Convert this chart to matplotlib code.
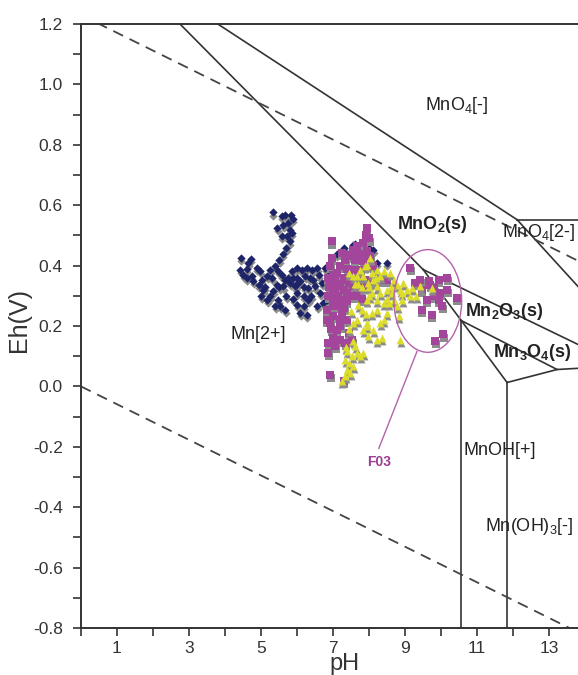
import matplotlib
matplotlib.use("Agg")
import matplotlib.pyplot as plt
from matplotlib.patches import Ellipse
from matplotlib import transforms

plt.rcParams['font.family'] = ['Liberation Sans', 'DejaVu Sans']
plt.rcParams['mathtext.fontset'] = 'custom'
plt.rcParams['mathtext.rm'] = 'Liberation Sans'
plt.rcParams['mathtext.bf'] = 'Liberation Sans:bold'

# stability field boundaries (pH, Eh)
mn2_mno2_ph = [2.75, 9.5]
mn2_mno2_eh = [1.2, 0.387]
mno4_mno2_ph = [3.8, 12.11]
mno4_mno2_eh = [1.2, 0.552]
mno4_mno42_ph = [12.11, 13.8]
mno4_mno42_eh = [0.552, 0.552]
mno42_mno2_ph = [12.11, 13.8]
mno42_mno2_eh = [0.552, 0.331]
mno2_mn2o3_ph = [9.5, 13.8]
mno2_mn2o3_eh = [0.387, 0.139]
mn2_mn2o3_ph = [9.5, 10.56]
mn2_mn2o3_eh = [0.387, 0.218]
mn2_mnoh_ph = [10.56, 10.56]
mn2_mnoh_eh = [0.218, -0.8]
mn2o3_mn3o4_ph = [10.56, 13.22, 13.8]
mn2o3_mn3o4_eh = [0.218, 0.056, 0.06]
mn3o4_mnoh_ph = [10.56, 11.83, 13.22]
mn3o4_mnoh_eh = [0.218, 0.013, 0.056]
mnoh_mnoh3_ph = [11.83, 11.83]
mnoh_mnoh3_eh = [0.013, -0.8]

# water stability limits
water_ph = [0.0, 13.8]
water_up = [1.23, 0.416]
water_low = [0.0, -0.814]

# samples
blue_ph = [5.32, 5.57, 5.67, 5.82, 5.88, 5.76, 5.62, 5.45, 5.81, 5.85, 5.71, 5.79, 5.57,
           4.43, 4.71, 4.65, 4.42, 4.51, 4.74, 4.88, 4.97, 5.02, 5.16, 5.25, 5.39, 5.48,
           5.57, 5.67, 5.76, 5.85, 5.99, 6.13, 6.27, 6.41, 6.55, 6.78, 6.22, 6.08, 5.94,
           5.81, 5.62, 5.43, 5.34, 5.25, 5.48, 5.53, 5.67, 5.39, 5.16, 5.06, 4.93, 4.79,
           5.99, 6.18, 6.31, 6.18, 6.08, 6.27, 6.50, 6.64, 6.55, 6.73, 6.69, 6.45, 6.31,
           7.56, 7.75, 8.12, 8.21, 8.49, 7.93, 6.82, 4.60, 5.10, 5.70, 6.00, 6.90, 7.10,
           5.90, 6.00, 6.20, 6.35, 6.60, 6.90, 5.30, 5.50, 4.60, 5.00, 5.90, 6.40, 6.00,
           5.60, 5.70, 5.50, 7.30, 7.60, 8.00]
blue_eh = [0.576, 0.565, 0.568, 0.568, 0.554, 0.541, 0.535, 0.524, 0.519, 0.508, 0.497, 0.480, 0.497,
           0.425, 0.422, 0.409, 0.387, 0.370, 0.365, 0.392, 0.381, 0.354, 0.365, 0.387, 0.398, 0.381,
           0.370, 0.354, 0.359, 0.381, 0.392, 0.387, 0.392, 0.387, 0.392, 0.392, 0.365, 0.348, 0.331,
           0.342, 0.331, 0.337, 0.315, 0.298, 0.287, 0.265, 0.254, 0.265, 0.287, 0.320, 0.337, 0.348,
           0.309, 0.298, 0.287, 0.265, 0.243, 0.238, 0.331, 0.309, 0.265, 0.276, 0.342, 0.354, 0.326,
           0.469, 0.464, 0.453, 0.409, 0.409, 0.398, 0.287, 0.360, 0.330, 0.300, 0.360, 0.400, 0.440,
           0.360, 0.340, 0.330, 0.360, 0.370, 0.370, 0.360, 0.330, 0.390, 0.300, 0.290, 0.300, 0.270,
           0.440, 0.460, 0.420, 0.460, 0.470, 0.460]

mag_ph = [7.93, 6.96, 7.84, 7.66, 7.56, 7.47, 7.33, 7.19, 7.10, 7.06, 6.92, 7.06, 7.15, 7.24,
          7.38, 7.52, 7.66, 7.75, 7.84, 7.56, 7.43, 7.29, 7.15, 6.87, 6.82, 7.01, 6.92, 6.87,
          7.06, 7.19, 7.33, 7.52, 7.01, 7.38, 7.43, 7.10, 7.56, 7.75, 7.93, 8.12, 8.31, 8.49,
          8.03, 8.12, 6.92, 7.29, 7.70, 7.84, 7.93, 6.92, 6.96, 7.24, 7.43, 7.10, 7.24, 7.01,
          7.29, 6.82, 7.19, 6.87,
          7.20, 7.40, 7.60, 7.00, 7.30, 7.50, 7.70, 7.20, 7.40, 7.60, 7.80, 7.00, 6.90, 7.10,
          7.30, 6.95, 7.20, 7.00, 7.60, 7.80, 7.90, 8.00, 6.85,
          9.14, 9.42, 9.65, 9.93, 10.16, 9.79, 9.97, 10.16, 9.46, 9.79, 9.60, 9.93, 10.43,
          10.02, 9.74, 9.46, 10.06, 9.83, 9.70, 9.28]
mag_eh = [0.524, 0.480, 0.475, 0.464, 0.453, 0.431, 0.420, 0.398, 0.376, 0.354, 0.342, 0.320, 0.298, 0.287,
          0.282, 0.298, 0.309, 0.320, 0.331, 0.331, 0.342, 0.354, 0.331, 0.298, 0.254, 0.265, 0.210, 0.144,
          0.133, 0.155, 0.144, 0.155, 0.232, 0.221, 0.177, 0.188, 0.387, 0.387, 0.354, 0.342, 0.354, 0.354,
          0.431, 0.398, 0.039, 0.017, 0.431, 0.414, 0.447, 0.398, 0.425, 0.442, 0.436, 0.265, 0.243, 0.287,
          0.320, 0.221, 0.199, 0.111,
          0.400, 0.390, 0.420, 0.370, 0.360, 0.370, 0.350, 0.340, 0.310, 0.300, 0.290, 0.310, 0.330, 0.280,
          0.260, 0.190, 0.220, 0.160, 0.450, 0.440, 0.500, 0.490, 0.360,
          0.392, 0.354, 0.348, 0.354, 0.359, 0.326, 0.309, 0.320, 0.320, 0.298, 0.287, 0.287, 0.293,
          0.265, 0.238, 0.254, 0.172, 0.150, 0.337, 0.342]

yel_ph = [8.03, 7.93, 7.75, 7.66, 7.84, 7.98, 8.12, 8.21, 8.07, 8.31, 8.49, 8.40, 8.58, 8.68,
          8.77, 8.63, 8.21, 7.93, 7.80, 7.66, 7.56, 7.93, 7.84, 7.98, 8.12, 8.31, 8.40, 8.49,
          8.54, 8.35, 8.21, 8.86, 8.91, 8.82, 8.86, 8.95, 9.05, 9.19, 9.14, 9.42, 9.74, 7.38,
          7.33, 7.43, 7.52, 7.66, 7.75, 7.84, 7.56, 7.47, 7.33, 7.24, 7.38, 7.61, 7.93, 8.07,
          8.21, 8.68, 8.77, 8.40, 7.56, 7.43, 8.21, 8.31, 8.07, 7.70, 7.88, 8.00,
          7.60, 7.80, 8.00, 8.20, 8.50, 7.70, 7.50, 7.90, 7.45, 7.35, 7.55, 8.60, 8.90, 9.30]
yel_eh = [0.425, 0.403, 0.387, 0.365, 0.365, 0.342, 0.354, 0.331, 0.309, 0.309, 0.320, 0.381, 0.376, 0.354,
          0.337, 0.309, 0.287, 0.287, 0.254, 0.221, 0.210, 0.210, 0.188, 0.166, 0.188, 0.210, 0.221, 0.243,
          0.276, 0.161, 0.155, 0.320, 0.287, 0.232, 0.155, 0.342, 0.320, 0.326, 0.298, 0.331, 0.326, 0.117,
          0.089, 0.078, 0.100, 0.111, 0.100, 0.111, 0.067, 0.045, 0.034, 0.017, 0.056, 0.133, 0.199, 0.243,
          0.254, 0.287, 0.265, 0.276, 0.365, 0.376, 0.387, 0.365, 0.376, 0.340, 0.400, 0.330,
          0.340, 0.330, 0.300, 0.360, 0.290, 0.270, 0.250, 0.240, 0.190, 0.130, 0.150, 0.330, 0.310, 0.300]

fig = plt.figure(figsize=(5.78, 6.75), dpi=100)
ax = fig.add_axes([0.1401, 0.0696, 0.8599, 0.8948])

line_col = '#333333'
lines = [(mn2_mno2_ph, mn2_mno2_eh), (mno4_mno2_ph, mno4_mno2_eh), (mno4_mno42_ph, mno4_mno42_eh),
         (mno42_mno2_ph, mno42_mno2_eh), (mno2_mn2o3_ph, mno2_mn2o3_eh), (mn2_mn2o3_ph, mn2_mn2o3_eh),
         (mn2_mnoh_ph, mn2_mnoh_eh), (mn2o3_mn3o4_ph, mn2o3_mn3o4_eh), (mn3o4_mnoh_ph, mn3o4_mnoh_eh),
         (mnoh_mnoh3_ph, mnoh_mnoh3_eh)]
for xs, ys in lines:
    ax.plot(xs, ys, color=line_col, lw=1.2, zorder=2)

ax.plot(water_ph, water_up, color='#444444', lw=1.3, dashes=(6, 4), zorder=2)
ax.plot(water_ph, water_low, color='#444444', lw=1.3, dashes=(6, 4), zorder=2)

# markers with a grey drop shadow
shadow = transforms.offset_copy(ax.transData, fig=fig, x=0.5, y=-2.2, units='points')
groups = [(blue_ph, blue_eh, 'D', '#1d2468', 18),
          (mag_ph, mag_eh, 's', '#a3459b', 27),
          (yel_ph, yel_eh, '^', '#dcdc2a', 32)]
z = 3
for xs, ys, m, c, s in groups:
    ax.scatter(xs, ys, marker=m, s=s, color='#8c8c8c', lw=0, transform=shadow, zorder=z)
    ax.scatter(xs, ys, marker=m, s=s, color=c, lw=0, zorder=z + 1)
    z += 2

ax.add_patch(Ellipse((9.63, 0.283), 1.88, 0.34, fill=False, edgecolor='#b462aa', lw=1.0, zorder=9))
ax.plot([9.33, 8.27], [0.116, -0.205], color='#b462aa', lw=1.0, zorder=9)
ax.text(8.28, -0.25, 'F03', color='#9c3f94', fontsize=10, fontweight='bold', ha='center', va='center')

tc = '#222222'
ax.text(9.56, 0.93, r'MnO$_4$[-]', fontsize=13, color=tc, va='center')
ax.text(8.78, 0.536, r'MnO$_\mathbf{2}$(s)', fontsize=13, fontweight='bold', color=tc, va='center')
ax.text(11.69, 0.509, r'MnO$_4$[2-]', fontsize=13, color=tc, va='center')
ax.text(10.67, 0.248, r'Mn$_\mathbf{2}$O$_\mathbf{3}$(s)', fontsize=13, fontweight='bold', color=tc, va='center')
ax.text(11.44, 0.112, r'Mn$_\mathbf{3}$O$_\mathbf{4}$(s)', fontsize=13, fontweight='bold', color=tc, va='center')
ax.text(4.14, 0.172, 'Mn[2+]', fontsize=13, color=tc, va='center')
ax.text(10.61, -0.212, 'MnOH[+]', fontsize=13, color=tc, va='center')
ax.text(11.22, -0.463, r'Mn(OH)$_3$[-]', fontsize=13, color=tc, va='center')

ax.set_xlim(0, 13.8)
ax.set_ylim(-0.8, 1.2)
ax.set_xticks([1, 3, 5, 7, 9, 11, 13])
ax.set_xticks([0, 2, 4, 6, 8, 10, 12], minor=True)
ax.set_yticks([-0.8, -0.6, -0.4, -0.2, 0.0, 0.2, 0.4, 0.6, 0.8, 1.0, 1.2])
ax.set_yticks([-0.7, -0.5, -0.3, -0.1, 0.1, 0.3, 0.5, 0.7, 0.9, 1.1], minor=True)
ax.set_yticklabels(['-0.8', '-0.6', '-0.4', '-0.2', '0.0', '0.2', '0.4', '0.6', '0.8', '1.0', '1.2'])
ax.tick_params(which='both', direction='out', length=6, width=1.2, color='#333333',
               labelsize=12.5, labelcolor='#333333')
ax.tick_params(axis='y', which='both', pad=7)
ax.spines['right'].set_visible(False)
for sp in ['left', 'bottom', 'top']:
    ax.spines[sp].set_linewidth(1.4)
    ax.spines[sp].set_color('#333333')

ax.set_ylabel('Eh(V)', fontsize=18, color='#333333')
ax.yaxis.set_label_coords(-0.1, 0.51)
ax.set_xlabel('pH', fontsize=17, color='#333333')
ax.xaxis.set_label_coords(0.531, -0.041)

fig.savefig('out.png', dpi=100)
